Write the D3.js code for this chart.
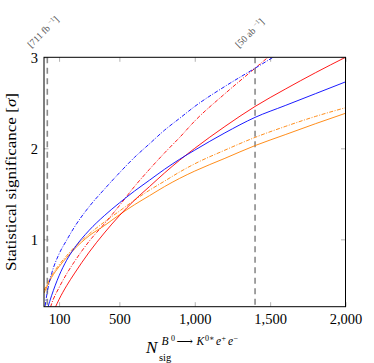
<!DOCTYPE html>
<html>
<head>
<meta charset="utf-8">
<script src="https://cdn.jsdelivr.net/npm/d3@7"></script>
<style>
  body { margin: 0; background: #fff; }
  svg text { font-family: "Liberation Serif", "DejaVu Serif", serif; }
</style>
</head>
<body>
<svg id="chart" width="374" height="363"></svg>
<script>
// signal yield points the curves were read at
const nSig = [0, 25, 50, 100, 150, 200, 300, 400, 500, 600, 700, 800, 900, 1000, 1200, 1400, 1600, 1800, 2000];

// significance, one list per curve
const blueSolid   = [0.12, 0.25, 0.38, 0.60, 0.77, 0.90, 1.10, 1.26, 1.40, 1.53, 1.65, 1.77, 1.88, 1.98, 2.17, 2.34, 2.47, 2.60, 2.73];
const blueDashDot = [0.18, 0.45, 0.62, 0.84, 0.99, 1.13, 1.36, 1.55, 1.73, 1.90, 2.05, 2.20, 2.33, 2.46, 2.68, 2.88, 3.08, 3.28, 3.46];
const redSolid    = [-0.12, 0.02, 0.15, 0.34, 0.49, 0.62, 0.86, 1.07, 1.26, 1.43, 1.58, 1.73, 1.87, 2.00, 2.24, 2.46, 2.65, 2.83, 3.00];
const redDashDot  = [0.0, 0.15, 0.29, 0.47, 0.62, 0.75, 0.98, 1.17, 1.37, 1.58, 1.77, 1.95, 2.12, 2.30, 2.60, 2.88, 3.16, 3.44, 3.71];
const orangeSolid = [0.41, 0.50, 0.58, 0.70, 0.80, 0.89, 1.04, 1.15, 1.27, 1.38, 1.48, 1.58, 1.67, 1.75, 1.89, 2.03, 2.15, 2.27, 2.385];
const orangeDashDot = [0.44, 0.52, 0.60, 0.72, 0.82, 0.91, 1.06, 1.19, 1.31, 1.43, 1.54, 1.64, 1.74, 1.83, 1.98, 2.12, 2.24, 2.35, 2.446];

const xTicks = [100, 500, 1000, 1500, 2000];
const yTicks = [1, 2, 3];

// luminosity markers
const lumiN = [22, 1400];
const lumiText = [["[711 fb", "]"], ["[50 ab", "]"]];

const W = 374, H = 363;
const margin = {left: 44, right: 28.5, top: 57.3, bottom: 56.3};

const svg = d3.select("#chart");

let x = d3.scaleLinear().domain([0, 2000]).range([margin.left, W - margin.right]);
let y = d3.scaleLinear().domain([0.26, 3]).range([H - margin.bottom, margin.top]);

svg.append("defs").append("clipPath").attr("id", "plotclip")
   .append("rect")
   .attr("x", x.range()[0]).attr("y", y.range()[1])
   .attr("width", x.range()[1] - x.range()[0])
   .attr("height", y.range()[0] - y.range()[1]);

// ticks on all four sides, pointing in
const tickLen = 4.5;
let styleTicks = function(g){
    g.select(".domain").remove();
    g.selectAll(".tick line").attr("stroke", "#a0a0a0").attr("stroke-width", 0.8);
};

svg.append("g")
   .attr("transform", `translate(0,${y.range()[0]})`)
   .call(d3.axisBottom(x).tickValues(xTicks).tickFormat(d3.format(",")).tickSizeInner(-tickLen).tickSizeOuter(0))
   .call(styleTicks)
   .call(g => g.selectAll("text").attr("y", 17).attr("dy", null).attr("fill", "#000")
               .attr("font-size", 14.5).attr("font-family", "Liberation Serif"));

svg.append("g")
   .attr("transform", `translate(0,${y.range()[1]})`)
   .call(d3.axisTop(x).tickValues(xTicks).tickFormat("").tickSizeInner(-tickLen).tickSizeOuter(0))
   .call(styleTicks);

svg.append("g")
   .attr("transform", `translate(${x.range()[0]},0)`)
   .call(d3.axisLeft(y).tickValues(yTicks).tickFormat(d3.format("d")).tickSizeInner(-tickLen).tickSizeOuter(0))
   .call(styleTicks)
   .call(g => g.selectAll("text").attr("x", -6).attr("dy", 5).attr("fill", "#000")
               .attr("font-size", 14.5).attr("font-family", "Liberation Serif"));

svg.append("g")
   .attr("transform", `translate(${x.range()[1]},0)`)
   .call(d3.axisRight(y).tickValues(yTicks).tickFormat("").tickSizeInner(-tickLen).tickSizeOuter(0))
   .call(styleTicks);

// dashed luminosity lines
let plot = svg.append("g").attr("clip-path", "url(#plotclip)");

plot.selectAll("line.lumi")
    .data(lumiN)
    .enter()
    .append("line")
    .attr("class", "lumi")
    .attr("x1", d => x(d)).attr("x2", d => x(d))
    .attr("y1", y.range()[1]).attr("y2", y.range()[0])
    .attr("stroke", "#8a8a8a")
    .attr("stroke-width", 1.6)
    .attr("stroke-dasharray", "6,4.5");

// curves
const series = [
    {vals: orangeSolid,   color: "#ff8000", dash: null},
    {vals: orangeDashDot, color: "#ff8000", dash: "4,1.5,1,1.5"},
    {vals: redSolid,      color: "#ff0000", dash: null},
    {vals: redDashDot,    color: "#ff0000", dash: "4,1.5,1,1.5"},
    {vals: blueSolid,     color: "#0000ff", dash: null},
    {vals: blueDashDot,   color: "#0000ff", dash: "4,1.5,1,1.5"}
];

let line = d3.line()
    .x(d => x(d[0]))
    .y(d => y(d[1]))
    .curve(d3.curveMonotoneX);

plot.selectAll("path.curve")
    .data(series)
    .enter()
    .append("path")
    .attr("class", "curve")
    .attr("d", s => line(nSig.map((n, i) => [n, s.vals[i]])))
    .attr("fill", "none")
    .attr("stroke", s => s.color)
    .attr("stroke-width", 0.9)
    .attr("stroke-dasharray", s => s.dash);

// frame
svg.append("rect")
   .attr("x", x.range()[0]).attr("y", y.range()[1])
   .attr("width", x.range()[1] - x.range()[0])
   .attr("height", y.range()[0] - y.range()[1])
   .attr("fill", "none")
   .attr("stroke", "#000")
   .attr("stroke-width", 1);

// rotated luminosity labels
lumiN.forEach(function(n, i){
    let g = svg.append("g")
        .attr("transform", "translate(" + (x(n) - 16) + "," + (y.range()[1] - 9) + ") rotate(-45)");
    let t = g.append("text")
        .attr("x", 0).attr("y", 0)
        .attr("font-size", 9.5)
        .attr("fill", "#555");
    t.append("tspan").text(lumiText[i][0] + " ");
    t.append("tspan").attr("font-size", 6.5).attr("dy", -3.5).text("\u22121");
    t.append("tspan").attr("dy", 3.5).text(lumiText[i][1]);
});

// y axis title
let ylab = svg.append("text")
    .attr("transform", `translate(16,${(y.range()[0] + y.range()[1]) / 2}) rotate(-90)`)
    .attr("text-anchor", "middle")
    .attr("font-size", 15)
    .attr("textLength", 178)
    .attr("lengthAdjust", "spacingAndGlyphs")
    .attr("fill", "#000");
ylab.append("tspan").text("Statistical significance [");
ylab.append("tspan").attr("font-style", "italic").text("\u03c3");
ylab.append("tspan").text("]");

// x axis title N_sig^{B0 -> K0* e+ e-}
svg.append("text")
   .attr("x", 146).attr("y", 353)
   .attr("font-size", 17).attr("font-style", "italic").attr("fill", "#000")
   .text("N");

svg.append("text")
   .attr("x", 159).attr("y", 361)
   .attr("font-size", 10.5).attr("fill", "#000")
   .text("sig");

// superscript pieces: text, x, raised, italic
const supParts = [
    ["B", 161.5, false, true],
    ["0", 171, true, false],
    ["\u27f6", 176.5, false, false],
    ["K", 196.5, false, true],
    ["0\u2217", 205, true, false],
    ["e", 216, false, true],
    ["+", 221.5, true, false],
    ["e", 228, false, true],
    ["\u2212", 233.5, true, false]
];
svg.selectAll("text.sup")
   .data(supParts)
   .enter()
   .append("text")
   .attr("class", "sup")
   .attr("x", d => d[1])
   .attr("y", d => d[2] ? 341 : 345)
   .attr("font-size", d => d[2] ? 8 : 11.5)
   .attr("font-style", d => d[3] ? "italic" : null)
   .attr("fill", "#000")
   .text(d => d[0]);
</script>
</body>
</html>
